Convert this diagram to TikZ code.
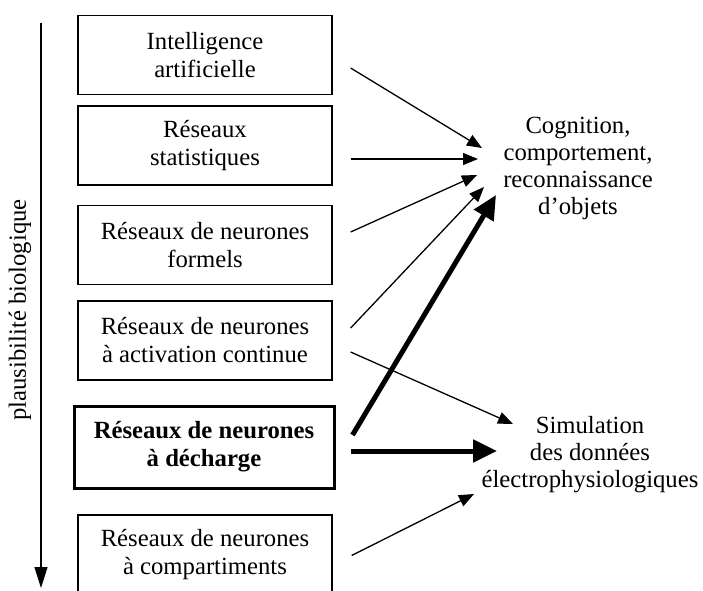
\documentclass[tikz,border=0pt]{standalone}
\usepackage{fontspec}
\setmainfont{Liberation Serif}
\usetikzlibrary{arrows.meta}

\begin{document}
\begin{tikzpicture}[x=1pt, y=-1pt, every node/.style={font=\fontsize{24.7}{28}\selectfont, align=center},
	box/.style={draw, line width=1.3pt, minimum width=254pt, minimum height=79pt, inner sep=0pt},
	arr/.style={-{Triangle[length=15pt,width=12pt]}, line width=1.3pt},
	bigarr/.style={-{Triangle[length=24pt,width=22pt]}, line width=5pt}]
	\useasboundingbox (0,0) rectangle (703,590);
	\clip (0,0) rectangle (703,590);
	\coordinate (top) at (41,23);
	\coordinate (bot) at (41,588);
	\draw[line width=1.3pt, -{Triangle[length=21pt,width=13pt]}] (top) -- (bot);
	\node[rotate=90] (plaus) at (20,310) {plausibilité biologique};
	\node[box] (ia) at (205,55) {Intelligence\\artificielle};
	\node[box] (stat) at (205,145.5) {Réseaux\\statistiques};
	\node[box] (form) at (205,245) {Réseaux de neurones\\formels};
	\node[box] (cont) at (205,340.5) {Réseaux de neurones\\à activation continue};
	\node[box, line width=3pt, minimum width=260pt, minimum height=82pt, font=\fontsize{24.7}{28}\selectfont\bfseries] (dech) at (204,447) {Réseaux de neurones\\à décharge};
	\node[box] (comp) at (205,554.5) {Réseaux de neurones\\à compartiments};
	\node[font=\fontsize{24.7}{27}\selectfont] (cog) at (578,168) {Cognition,\\comportement,\\reconnaissance\\d'objets};
	\node[font=\fontsize{24.7}{27}\selectfont] (sim) at (590,455) {Simulation\\des données\\électrophysiologiques};
	\draw[arr] ([shift={(18,13)}]ia.east) -- ([shift={(-96,-20)}]cog.center);
	\draw[arr] ([shift={(18,13.5)}]stat.east) -- ([shift={(-100,-9)}]cog.center);
	\draw[arr] ([shift={(18,-13)}]form.east) -- ([shift={(-101,7)}]cog.center);
	\draw[arr] ([shift={(18,-12.5)}]cont.east) -- ([shift={(-94,19)}]cog.center);
	\draw[arr] ([shift={(18,11.5)}]cont.east) -- ([shift={(-77,-31)}]sim.center);
	\draw[bigarr] ([shift={(17,-12)}]dech.east) -- ([shift={(-82,27)}]cog.center);
	\draw[bigarr] ([shift={(15,4)}]dech.east) -- ([shift={(-93,-4)}]sim.center);
	\draw[arr] ([shift={(19,1)}]comp.east) -- ([shift={(-116,39)}]sim.center);
\end{tikzpicture}
\end{document}
